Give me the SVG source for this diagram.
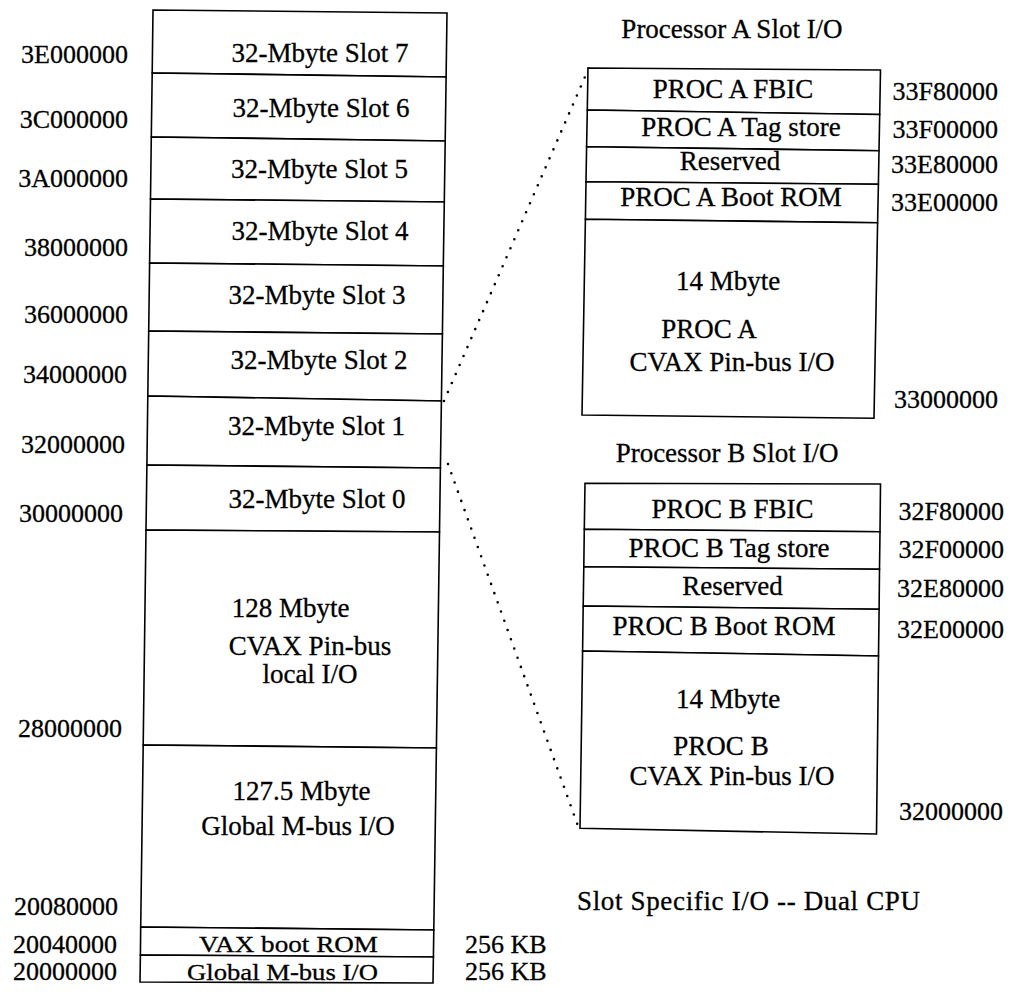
<svg xmlns="http://www.w3.org/2000/svg" width="1012" height="995" viewBox="0 0 1012 995">
<style>
  .box { fill: #fff; stroke: #000; stroke-width: 1.6; stroke-linejoin: miter; }
  .t { font-family: "Liberation Serif", "Times New Roman", serif; font-size: 27px; fill: #000; stroke: #000; stroke-width: 0.3; }
  .l { font-size: 26px; }
  .s { font-size: 24px; }
  .c { text-anchor: middle; }
  .e { text-anchor: end; }
  .dot { fill: none; stroke: #000; stroke-width: 2.6; stroke-linecap: round; stroke-dasharray: 0 9.8; }
</style>
<rect width="1012" height="995" fill="#fff"/>

<g id="connectors">
  <line class="dot" x1="444" y1="401" x2="591" y2="63"/>
  <line class="dot" x1="448" y1="464" x2="578" y2="826"/>
</g>

<g id="memory-map">
  <g id="slot7"><polygon class="box" points="153,10 447,13 446.1,77 152.2,73"/><text class="t c" x="320" y="62">32-Mbyte Slot 7</text></g>
  <g id="slot6"><polygon class="box" points="152.2,73 446.1,77 445.2,141 151.3,137"/><text class="t c" x="321" y="117">32-Mbyte Slot 6</text></g>
  <g id="slot5"><polygon class="box" points="151.3,137 445.2,141 444.3,202 150.5,199"/><text class="t c" x="319.5" y="178">32-Mbyte Slot 5</text></g>
  <g id="slot4"><polygon class="box" points="150.5,199 444.3,202 443.3,266 149.6,263"/><text class="t c" x="320" y="240">32-Mbyte Slot 4</text></g>
  <g id="slot3"><polygon class="box" points="149.6,263 443.3,266 442.4,334 148.7,331"/><text class="t c" x="317" y="304">32-Mbyte Slot 3</text></g>
  <g id="slot2"><polygon class="box" points="148.7,331 442.4,334 441.4,401 147.8,396"/><text class="t c" x="319" y="369">32-Mbyte Slot 2</text></g>
  <g id="slot1"><polygon class="box" points="147.8,396 441.4,401 440.4,468 146.9,465"/><text class="t c" x="316.5" y="435">32-Mbyte Slot 1</text></g>
  <g id="slot0"><polygon class="box" points="146.9,465 440.4,468 439.5,532 146,530"/><text class="t c" x="317" y="508">32-Mbyte Slot 0</text></g>
  <g id="local-io"><polygon class="box" points="146,530 439.5,532 436.4,748 143.2,745"/>
    <text class="t c" x="290.5" y="617">128 Mbyte</text>
    <text class="t c" x="310" y="655">CVAX Pin-bus</text>
    <text class="t c" x="310" y="683">local I/O</text></g>
  <g id="global-io"><polygon class="box" points="143.2,745 436.4,748 433.8,930 140.7,927"/>
    <text class="t c" x="301.5" y="800">127.5 Mbyte</text>
    <text class="t c" x="298" y="835">Global M-bus I/O</text></g>
  <g id="vax-boot-rom"><polygon class="box" points="140.7,927 433.8,930 433.4,957 140.4,955"/><text class="t s c" x="288.5" y="952" textLength="179" lengthAdjust="spacingAndGlyphs">VAX boot ROM</text></g>
  <g id="global-mbus-io"><polygon class="box" points="140.4,955 433.4,957 433,983 140,982"/><text class="t s c" x="282.5" y="980" textLength="191" lengthAdjust="spacingAndGlyphs">Global M-bus I/O</text></g>
</g>

<g id="address-labels">
  <text class="t l e" x="128" y="63">3E000000</text>
  <text class="t l e" x="128" y="128">3C000000</text>
  <text class="t l e" x="128" y="187">3A000000</text>
  <text class="t l e" x="128" y="256">38000000</text>
  <text class="t l e" x="128" y="323">36000000</text>
  <text class="t l e" x="127" y="383">34000000</text>
  <text class="t l e" x="125" y="453">32000000</text>
  <text class="t l e" x="123" y="522">30000000</text>
  <text class="t l e" x="122" y="737">28000000</text>
  <text class="t l e" x="118" y="915">20080000</text>
  <text class="t l e" x="117" y="953">20040000</text>
  <text class="t l e" x="117" y="980">20000000</text>
  <text class="t l" x="465" y="953">256 KB</text>
  <text class="t l" x="465" y="980">256 KB</text>
</g>

<g id="proc-a">
  <text class="t c" x="732" y="38">Processor A Slot I/O</text>
  <g id="proc-a-fbic"><polygon class="box" points="588,68 880.5,70 879.7,114.5 587.3,110"/><text class="t c" x="733" y="98">PROC A FBIC</text></g>
  <g id="proc-a-tag"><polygon class="box" points="587.3,110 879.7,114.5 879,150.7 586.6,146.7"/><text class="t c" x="741" y="136">PROC A Tag store</text></g>
  <g id="proc-a-reserved"><polygon class="box" points="586.6,146.7 879,150.7 878.4,184.3 586,181.7"/><text class="t c" x="730" y="170">Reserved</text></g>
  <g id="proc-a-boot"><polygon class="box" points="586,181.7 878.4,184.3 877.6,222.7 585.4,219.3"/><text class="t c" x="731" y="206">PROC A Boot ROM</text></g>
  <g id="proc-a-pinbus"><polygon class="box" points="585.4,219.3 877.6,222.7 874,418.3 582,415"/>
    <text class="t c" x="728" y="290">14 Mbyte</text>
    <text class="t c" x="709" y="338">PROC A</text>
    <text class="t c" x="732" y="371">CVAX Pin-bus I/O</text></g>
  <text class="t l e" x="998" y="100">33F80000</text>
  <text class="t l e" x="998" y="138">33F00000</text>
  <text class="t l e" x="998" y="173">33E80000</text>
  <text class="t l e" x="998" y="211">33E00000</text>
  <text class="t l e" x="998" y="408">33000000</text>
</g>

<g id="proc-b">
  <text class="t c" x="727" y="462">Processor B Slot I/O</text>
  <g id="proc-b-fbic"><polygon class="box" points="585,483.3 880.5,484 880,531.7 584.3,529.3"/><text class="t c" x="732.5" y="518">PROC B FBIC</text></g>
  <g id="proc-b-tag"><polygon class="box" points="584.3,529.3 880,531.7 879.5,569.3 583.8,566.7"/><text class="t c" x="729" y="557">PROC B Tag store</text></g>
  <g id="proc-b-reserved"><polygon class="box" points="583.8,566.7 879.5,569.3 879.1,609.3 583.2,606"/><text class="t c" x="732.5" y="595">Reserved</text></g>
  <g id="proc-b-boot"><polygon class="box" points="583.2,606 879.1,609.3 878.5,656 582.6,651"/><text class="t c" x="724" y="635">PROC B Boot ROM</text></g>
  <g id="proc-b-pinbus"><polygon class="box" points="582.6,651 878.5,656 876.5,834 580,828.3"/>
    <text class="t c" x="728" y="708">14 Mbyte</text>
    <text class="t c" x="721" y="755">PROC B</text>
    <text class="t c" x="732" y="785">CVAX Pin-bus I/O</text></g>
  <text class="t l e" x="1004" y="520">32F80000</text>
  <text class="t l e" x="1004" y="558">32F00000</text>
  <text class="t l e" x="1004" y="597">32E80000</text>
  <text class="t l e" x="1004" y="638">32E00000</text>
  <text class="t l e" x="1003" y="820">32000000</text>
</g>

<text class="t" x="577" y="910" textLength="343">Slot Specific I/O -- Dual CPU</text>
</svg>
